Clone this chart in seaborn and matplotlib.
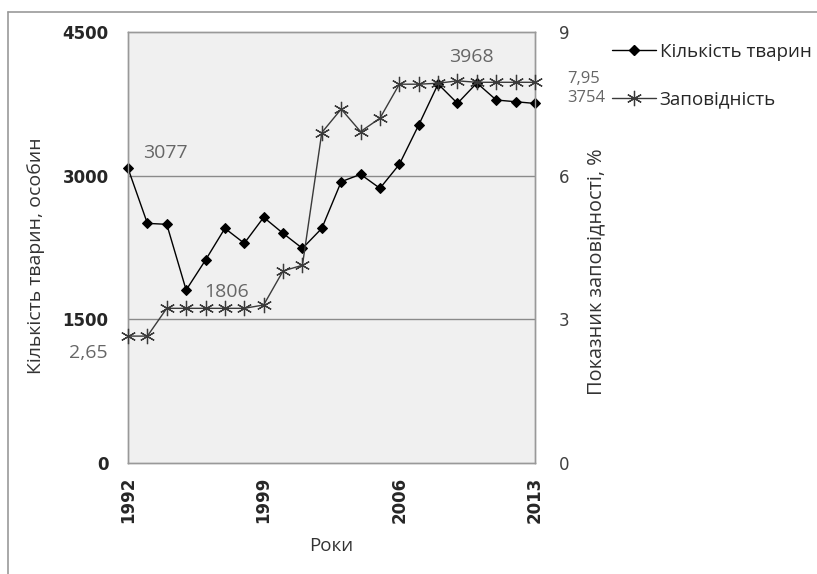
import matplotlib
matplotlib.use("Agg")
import matplotlib.pyplot as plt
from matplotlib.lines import Line2D
import seaborn as sns
import pandas as pd

years = list(range(1992, 2014))
animals = [3077, 2502, 2492, 1806, 2119, 2450, 2294, 2565, 2398, 2241, 2450,
           2937, 3014, 2868, 3118, 3529, 3957, 3755, 3968, 3790, 3772, 3754]
reserve = [2.65, 2.65, 3.23, 3.23, 3.23, 3.23, 3.23, 3.30, 4.01, 4.13, 6.90,
           7.39, 6.92, 7.20, 7.91, 7.91, 7.93, 7.98, 7.95, 7.95, 7.95, 7.95]
x_ticks = [1992, 1999, 2006, 2013]
left_ticks = [0, 1500, 3000, 4500]
right_ticks = [0, 3, 6, 9]
series_names = ["Кількість тварин", "Заповідність"]

df = pd.DataFrame({"year": years, "animals": animals, "reserve": reserve})

sns.set_style("white")
plt.rcParams["font.family"] = ["Open Sans", "DejaVu Sans"]

fig = plt.figure(figsize=(8.17, 5.74), dpi=100)
ax = fig.add_axes([128 / 817, 1 - 463 / 574, (535 - 128) / 817, (463 - 32) / 574])
ax.set_facecolor("#f0f0f0")
ax2 = ax.twinx()

star = (6, 2, 0)
sns.lineplot(data=df, x="year", y="animals", ax=ax, color="black", marker="D",
             markersize=5, linewidth=1.0, markeredgecolor="black", clip_on=False,
             zorder=4)
sns.lineplot(data=df, x="year", y="reserve", ax=ax2, color="#3a3a3a", marker=star,
             markersize=11, linewidth=1.0, markeredgewidth=0.9,
             markeredgecolor="#3a3a3a", clip_on=False, zorder=3)

tick_font = dict(family="DejaVu Sans", fontweight="bold", fontsize=12)
ax.set_xlim(1992, 2013)
ax.set_ylim(0, 4500)
ax2.set_ylim(0, 9)
ax.set_xticks(x_ticks)
ax.set_xticklabels([str(v) for v in x_ticks], rotation=90, **tick_font)
ax.set_yticks(left_ticks)
ax.set_yticklabels([str(v) for v in left_ticks], **tick_font)
ax2.set_yticks(right_ticks)
ax2.set_yticklabels([str(v) for v in right_ticks], family="DejaVu Sans", fontsize=12,
                    color="#404040")

ax.tick_params(axis="x", direction="in", length=6, color="#888888", pad=10)
ax.tick_params(axis="y", length=0, pad=14)
ax2.tick_params(axis="y", length=0, pad=17)

for y in [1500, 3000]:
    ax.axhline(y, color="#8a8a8a", linewidth=1.0, zorder=1)

for a in (ax, ax2):
    for s in a.spines.values():
        s.set_visible(True)
        s.set_color("#999999")
        s.set_linewidth(1.0)

ax.set_xlabel("Роки", fontsize=13.5, color="#333333", labelpad=10)
ax.set_ylabel("Кількість тварин, особин", fontsize=14, color="#333333")
ax.yaxis.set_label_coords(-83 / 407, 0.48)
ax2.set_ylabel("Показник заповідності, %", fontsize=14.3, color="#333333")
ax2.yaxis.set_label_coords(1 + 51 / 407, 0.445)

lab_kw = dict(textcoords="offset points", fontsize=14, color="#666666",
              annotation_clip=False, va="center")
small_kw = dict(lab_kw, fontsize=12)
ax.annotate(str(animals[0]), (years[0], animals[0]), xytext=(11, 11), ha="left",
            **lab_kw)
ax.annotate(str(animals[3]), (years[3], animals[3]), xytext=(13, -1.5), ha="left",
            **lab_kw)
ax.annotate(str(animals[18]), (years[18], animals[18]), xytext=(-3.6, 18.5),
            ha="center", **lab_kw)
ax.annotate(str(animals[-1]), (years[-1], animals[-1]), xytext=(23, 4), ha="left",
            **small_kw)
ax2.annotate(f"{reserve[-1]:.2f}".replace(".", ","), (years[-1], reserve[-1]),
             xytext=(23, 2.5), ha="left", **small_kw)
ax2.annotate(f"{reserve[0]:.2f}".replace(".", ","), (years[0], reserve[0]),
             xytext=(-14.4, -12), ha="right", **lab_kw)

handles = [Line2D([], [], color="black", marker="D", markersize=5, linewidth=1.0),
           Line2D([], [], color="#3a3a3a", marker=star, markersize=11, linewidth=1.0,
                  markeredgewidth=0.9)]
fig.legend(handles, series_names, loc="upper left",
           bbox_to_anchor=(612 / 817, 1 - 43 / 574),
           frameon=False, fontsize=13.5, handlelength=2.35, handletextpad=0.2,
           labelspacing=1.57, borderaxespad=0, borderpad=0)

fig.add_artist(Line2D([8 / 817, 1.0], [1 - 12 / 574, 1 - 12 / 574],
                      transform=fig.transFigure, color="#999999", linewidth=1.2))
fig.add_artist(Line2D([8 / 817, 8 / 817], [0, 1 - 12 / 574],
                      transform=fig.transFigure, color="#999999", linewidth=1.2))

fig.savefig("out.png", dpi=100)
